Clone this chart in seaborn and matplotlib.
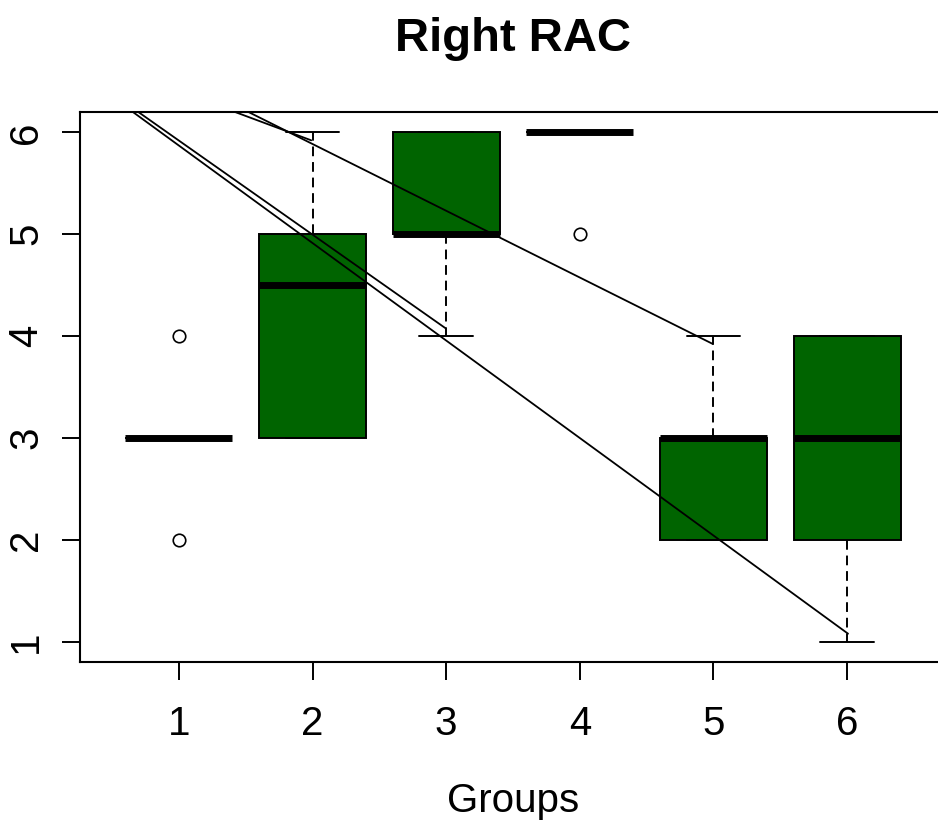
import matplotlib
matplotlib.use("Agg")
import matplotlib.pyplot as plt
import seaborn as sns
import pandas as pd

# raw scores per group (chosen so the box stats match the reference)
groups = [1, 2, 3, 4, 5, 6]
g1 = [2, 3, 3, 3, 3, 3, 4]
g2 = [3, 3, 3, 4, 5, 5, 5, 6]
g3 = [4, 5, 5, 5, 5, 6, 6, 6]
g4 = [5, 6, 6, 6, 6, 6]
g5 = [2, 2, 2, 3, 3, 3, 3, 4]
g6 = [1, 2, 2, 3, 3, 4, 4, 4]

# straight segments drawn over the boxes (start -> end, data units)
seg_x0 = [-0.18, -0.17, -0.22, 0.30]
seg_y0 = [7.0, 7.0, 7.0, 7.0]
seg_x1 = [6.007, 2.994, 1.990, 4.996]
seg_y1 = [1.078, 4.078, 5.922, 3.922]

rows = []
for g, vals in zip(groups, [g1, g2, g3, g4, g5, g6]):
    for v in vals:
        rows.append({'Group': g, 'Value': v})
df = pd.DataFrame(rows)

sns.set_theme(style="white")
plt.rcParams['font.family'] = ['Liberation Sans', 'DejaVu Sans']
plt.rcParams['text.color'] = 'black'
plt.rcParams['axes.labelcolor'] = 'black'
plt.rcParams['xtick.color'] = 'black'
plt.rcParams['ytick.color'] = 'black'

fig = plt.figure(figsize=(9.38, 8.21), dpi=100)
ax = fig.add_axes([80 / 938, 159 / 821, 866 / 938, 550 / 821])

sns.boxplot(data=df, x='Group', y='Value', native_scale=True, ax=ax,
            color='#006400', saturation=1, width=0.8, linecolor='black',
            linewidth=1.4,
            whiskerprops=dict(linestyle=(0, (5, 3))),
            medianprops=dict(linewidth=5, solid_capstyle='butt'),
            flierprops=dict(marker='o', markerfacecolor='none',
                            markeredgecolor='black', markersize=9,
                            markeredgewidth=1.2))

for x0, y0, x1, y1 in zip(seg_x0, seg_y0, seg_x1, seg_y1):
    ax.plot([x0, x1], [y0, y1], color='black', lw=1.3)

ax.set_xlim(0.26, 6.74)
ax.set_ylim(0.8, 6.2)
ax.set_xticks(groups)
ax.set_yticks([1, 2, 3, 4, 5, 6])

for s in ax.spines.values():
    s.set_visible(True)
    s.set_color('black')
    s.set_linewidth(1.5)

ax.tick_params(axis='both', which='major', direction='out', length=13,
               width=1.4, color='black', labelcolor='black', labelsize=29,
               left=True, bottom=True)
ax.tick_params(axis='x', pad=18)
ax.tick_params(axis='y', pad=12)
plt.setp(ax.get_yticklabels(), rotation=90, va='center')

ax.set_ylabel('')
ax.set_xlabel('Groups', fontsize=29, labelpad=28, color='black')
ax.set_title('Right RAC', fontsize=34, fontweight='bold', pad=44,
             color='black')

fig.savefig('out.png', dpi=100)
